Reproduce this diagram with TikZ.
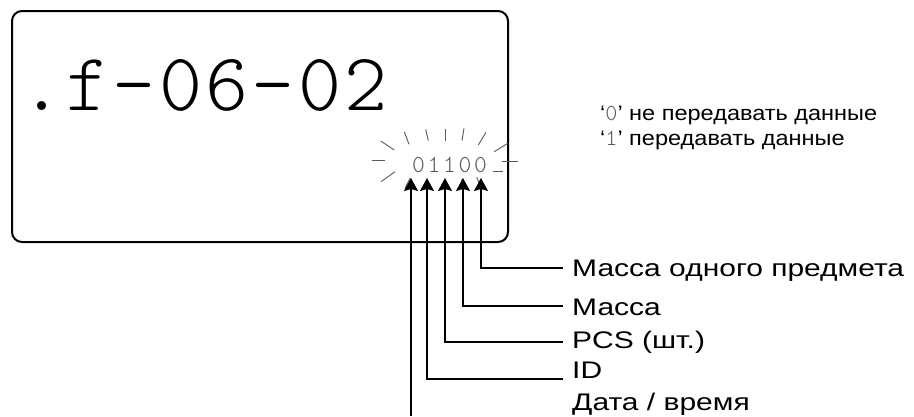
\documentclass[tikz,border=0pt]{standalone}
\usepackage{fontspec}
\setmainfont{Liberation Sans}
\newfontfamily\lcdfont{Latin Modern Mono Light}
\newfontfamily\lcdbig{Latin Modern Mono Light}[LetterSpace=4]
\newfontfamily\lcdsmall{Latin Modern Mono Light}[LetterSpace=11]
\newfontfamily\wide{Liberation Sans}[FakeStretch=1.25]
\newfontfamily\widel{Liberation Sans}[FakeStretch=1.12]
\usetikzlibrary{arrows.meta}
\definecolor{lcdgray}{gray}{0.35}

\begin{document}
\begin{tikzpicture}[x=1pt, y=-1pt,
    ray/.style={line width=0.9pt, lcdgray},
    lead/.style={line width=1.2pt, -{Stealth[length=13pt, width=14pt, inset=2pt]}},
    lbl/.style={anchor=base west, inner sep=0pt, font=\wide\fontsize{24}{28}\selectfont},
    note/.style={anchor=base west, inner sep=0pt, font=\widel\fontsize{21}{24}\selectfont}]
  \useasboundingbox (0,0) rectangle (914,416);

  % display window
  \draw[line width=2pt, rounded corners=10pt] (12,11) rectangle (508,242);
  \node (disp) [anchor=base west, inner sep=0pt, font=\lcdbig\fontsize{82}{86}\selectfont]
    at (20,110) {.f-06-02};
  \node (bits) [anchor=base west, inner sep=0pt, text=lcdgray,
    font=\lcdsmall\fontsize{24.4}{28}\selectfont]
    at (412,172) {01100};

  % blinking rays
  \foreach \xa/\ya/\xb/\yb in {371.7/160/385/160, 380.7/141/394.3/150,
      381/181.7/395/171.7, 404.3/131.7/409/144.3, 425.7/129.3/428.3/140.7,
      445/129.3/445/140.7, 464/128.3/462/140.7, 486/132.3/478.3/145,
      494.3/151.7/507.7/143.3, 493.3/171/503.3/171, 501.7/161/518.3/161,
      405/188.3/410/178.3, 461.7/179/463.3/183.3, 476.7/177.3/479/182.7}
    \draw[ray] (\xa,\ya) -- (\xb,\yb);

  % arrow tips under the digits
  \coordinate (t1) at (411,178);
  \coordinate (t2) at (427,178);
  \coordinate (t3) at (445,178);
  \coordinate (t4) at (463,178);
  \coordinate (t5) at (481,178);

  % line ends beside the labels
  \coordinate (e1) at (411,416);
  \coordinate (e2) at (563,379);
  \coordinate (e3) at (563,342);
  \coordinate (e4) at (563,306);
  \coordinate (e5) at (563,268);

  \node (l5) [lbl] at (572,276)   {Масса одного предмета};
  \node (l4) [lbl] at (572,315.5) {Масса};
  \node (l3) [lbl] at (572,348.5) {PCS (шт.)};
  \node (l2) [lbl] at (572,378)   {ID};
  \node (l1) [lbl] at (572,410)   {Дата / время};

  \draw[lead] (e1) -- (t1);
  \foreach \i in {2,...,5}
    \draw[lead] (e\i) -| (t\i);

  % legend
  \node (n0) [note] at (600,120)
    {‘{\lcdfont\fontsize{23}{24}\selectfont\color{lcdgray}0}’ не передавать данные};
  \node (n1) [note] at (600,145)
    {‘{\lcdfont\fontsize{23}{24}\selectfont\color{lcdgray}1}’ передавать данные};
\end{tikzpicture}
\end{document}
